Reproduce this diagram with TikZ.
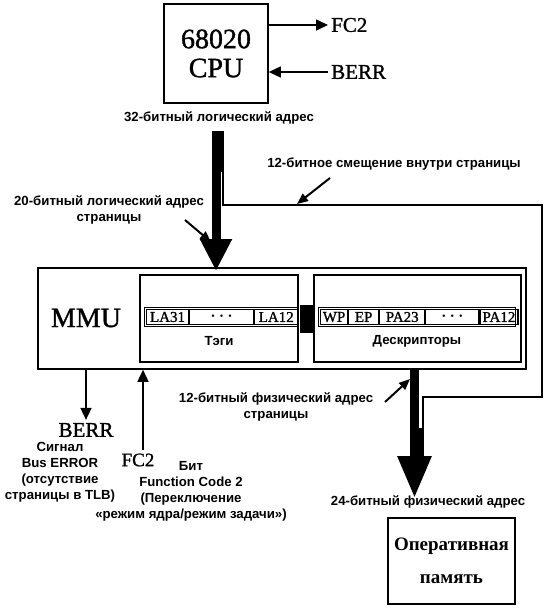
\documentclass[tikz,border=0pt]{standalone}
\usepackage{fontspec}
\setmainfont{Liberation Serif}
\setsansfont{Liberation Sans}
\newfontfamily\heavyserif[FakeBold=1.2]{Liberation Serif}
\usetikzlibrary{arrows.meta}
\begin{document}
\begin{tikzpicture}[x=1pt,y=-1pt,
  box/.style={draw, line width=1.6pt, inner sep=0pt},
  lbl/.style={font=\sffamily\bfseries\fontsize{13.2}{16}\selectfont, align=center, inner sep=0pt},
  big/.style={font=\heavyserif\fontsize{28}{29}\selectfont, align=center, inner sep=0pt},
  sig/.style={font=\heavyserif\fontsize{21}{21}\selectfont, inner sep=0pt},
  arr/.style={line width=1.6pt, -{Triangle[length=12pt,width=11pt]}},
  ptr/.style={line width=2pt, -{Triangle[length=11pt,width=9pt]}},
  busa/.style={line width=9pt, -{Triangle[length=32pt,width=30pt]}},
  busb/.style={line width=9pt, -{Triangle[length=42pt,width=32pt]}},
  thinline/.style={line width=1.8pt},
  cell/.style={draw, line width=1.1pt, minimum height=15pt, inner sep=0pt, font=\heavyserif\fontsize{15}{15}\selectfont, anchor=west},
  dotcell/.style={cell, font=\fontsize{10}{10}\selectfont},
]
\useasboundingbox (0,0) rectangle (550,610);

% CPU
\node[box, minimum width=104pt, minimum height=99pt, big] (cpu) at (216,53.5) {68020\\CPU};
\node[sig, anchor=west] (fc2a) at (331,25) {FC2};
\node[sig, anchor=west] (berra) at (331,72) {BERR};
\draw[arr, shorten >=3pt] (cpu.east |- fc2a.west) -- (fc2a.west);
\draw[arr, shorten <=3pt] (berra.west) -- (cpu.east |- berra.west);

% labels
\node[lbl] (l32) at (219,118) {32-битный логический адрес};
\node[lbl] (l12) at (394,164) {12-битное смещение внутри страницы};
\node[lbl] (l20) at (109,210) {20-битный логический адрес\\страницы};
\node[lbl] (l12f) at (276,407) {12-битный физический адрес\\страницы};
\node[lbl] (l24) at (428,502) {24-битный физический адрес};
\node[lbl] (lsig) at (60,472) {Сигнал\\Bus ERROR\\(отсутствие\\страницы в TLB)};
\node[lbl] (lbit) at (191,491) {Бит\\Function Code 2\\(Переключение\\«режим ядра/режим задачи»)};

% MMU
\node[box, minimum width=488pt, minimum height=101pt] (mmu) at (282,318.5) {};
\node[big] (mmut) at (86,318) {MMU};
\node[box, minimum width=158pt, minimum height=87pt] (tags) at (219,318.5) {};
\node[box, minimum width=207pt, minimum height=87pt] (desc) at (417.5,318.5) {};
\node[fill, minimum width=13pt, minimum height=28pt, inner sep=0pt] (link) at (306,319) {};
\node[lbl] (tagt) at (219,341) {Тэги};
\node[lbl] (desct) at (417,341) {Дескрипторы};

\draw[line width=0.8pt] (144,307.5) rectangle (297,326.5);
\node[cell, minimum width=42pt] (la31) at (146,317) {LA31};
\node[dotcell, minimum width=64pt] (tdots) at (la31.east) {•\ \ •\ \ •};
\node[cell, minimum width=43pt] (la12) at (tdots.east) {LA12};

\draw[line width=0.8pt] (318,307.5) rectangle (515,326.5);
\node[cell, minimum width=27pt] (wp) at (320,317) {WP};
\node[cell, minimum width=30pt] (ep) at (wp.east) {EP};
\node[cell, minimum width=45pt] (pa23) at (ep.east) {PA23};
\node[dotcell, minimum width=53pt] (pdots) at (pa23.east) {•\ \ •\ \ •};
\node[cell, minimum width=38pt] (pa12) at (pdots.east) {PA12};

% buses
\coordinate (b1) at (216,131);
\coordinate (b2) at (216,271);
\coordinate (b3) at (414.5,369);
\coordinate (b4) at (414.5,498);
\draw[busa] (b1) -- (b2);
\fill (220,131) rectangle (222.5,172);
\draw[thinline] (222.6,131) -- (222.6,205) -- (542,205) -- (542,397) -- (423,397) -- (423,450);
\fill (418,428) rectangle (424,458);
\draw[busb] (b3) -- (b4);

% pointers
\coordinate (p1s) at (330,178); \coordinate (p1e) at (297,204);
\coordinate (p2s) at (185,220); \coordinate (p2e) at (211,242);
\coordinate (p3s) at (385,402); \coordinate (p3e) at (410,379);
\draw[ptr] (p1s) -- (p1e);
\draw[ptr] (p2s) -- (p2e);
\draw[ptr] (p3s) -- (p3e);

% bottom signals
\node[sig] (berrb) at (86,430) {BERR};
\node[sig, font=\heavyserif\fontsize{19}{19}\selectfont] (fc2b) at (138,460) {FC2};
\draw[arr, shorten >=3pt] (berrb.north |- mmu.south) -- (berrb.north);
\coordinate (f1) at (143,450);
\draw[arr] (f1) -- (f1 |- mmu.south);

% memory
\node[box, minimum width=127pt, minimum height=86pt, font=\bfseries\fontsize{19}{33}\selectfont, align=center] (mem) at (451.5,561) {Оперативная\\память};
\end{tikzpicture}
\end{document}
